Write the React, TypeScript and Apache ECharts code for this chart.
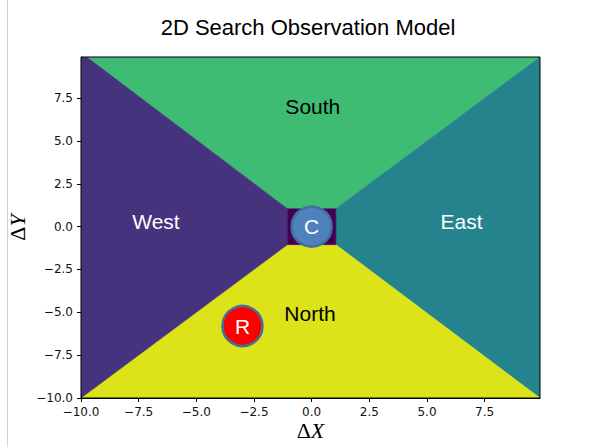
import React, { useEffect, useRef } from "react";
import * as echarts from "echarts";

// axis extents and ticks
const xMin = -10;
const xMax = 9.9;
const yMin = -10;
const yMax = 9.9;
const tickValues = [-10, -7.5, -5, -2.5, 0, 2.5, 5, 7.5];

// regions (polygon vertices in data coordinates)
const regionNames = ["South", "East", "North", "West", "Center"];
const southPoly = [[-9.75, 9.9], [9.9, 9.9], [1.05, 1.05], [-1.05, 1.05]];
const eastPoly = [[9.9, 9.9], [9.9, -10], [1.05, -1.05], [1.05, 1.05]];
const northPoly = [[-10, -10], [9.9, -10], [1.05, -1.05], [-1.05, -1.05]];
const westPoly = [[-10, -10], [-10, 9.9], [-9.75, 9.9], [-1.05, 1.05], [-1.05, -1.05]];
const centerPoly = [[-1.05, -1.05], [1.05, -1.05], [1.05, 1.05], [-1.05, 1.05]];
const regionColors = ["#3fbc73", "#25838e", "#dce319", "#46337e", "#440154"];

// region labels
const labelNames = ["South", "East", "North", "West"];
const labelX = [0.05, 6.5, -0.07, -6.75];
const labelY = [7.0, 0.3, -5.05, 0.3];
const labelColors = ["#000000", "#ffffff", "#000000", "#ffffff"];

// markers
const markerNames = ["C", "R"];
const markerX = [0, -3.0];
const markerY = [0, -5.8];
const markerFill = ["#4f81bd", "#ff0000"];

const polys = [southPoly, eastPoly, northPoly, westPoly, centerPoly];

const fmt = (v: number) => {
  const s = Math.abs(v).toFixed(1);
  return v < 0 ? "\u2212" + s : s;
};

export default function App() {
  const ref = useRef<HTMLDivElement>(null);
  useEffect(() => {
    if (!ref.current) return;
    const chart = echarts.init(ref.current, undefined, { renderer: "svg" });
    const axisCommon = {
      type: "value" as const,
      splitLine: { show: false },
      axisLine: { show: true, onZero: false, lineStyle: { color: "#000", width: 1 } },
      axisTick: {
        show: true,
        length: 4,
        lineStyle: { color: "#000", width: 1 },
        customValues: tickValues,
      },
      axisLabel: {
        color: "#111",
        fontFamily: "DejaVu Sans",
        fontSize: 12,
        customValues: tickValues,
        formatter: (v: number) => fmt(v),
      },
    };
    const nameRich = {
      a: { fontFamily: "Liberation Serif", fontSize: 22, color: "#000" },
      b: { fontFamily: "Liberation Serif", fontStyle: "italic", fontSize: 22, color: "#000" },
    };
    chart.setOption({
      animation: false,
      backgroundColor: "#ffffff",
      title: {
        text: "2D Search Observation Model",
        left: 303,
        top: 11,
        textAlign: "center",
        textStyle: {
          fontFamily: "Liberation Sans, Arial",
          fontSize: 22,
          fontWeight: "normal",
          color: "#000",
        },
      },
      grid: {
        left: 81,
        right: 54,
        top: 57,
        bottom: 49,
        outerBoundsMode: "none",
        containLabel: false,
        show: true,
        borderColor: "#000",
        borderWidth: 1,
        backgroundColor: "transparent",
        z: 10,
      },
      xAxis: {
        ...axisCommon,
        min: xMin,
        max: xMax,
        name: "{a|\u0394}{b|X}",
        nameLocation: "middle",
        nameGap: 21,
        nameMoveOverlap: false,
        nameTextStyle: { rich: nameRich },
        axisLabel: { ...axisCommon.axisLabel, margin: 8 },
      },
      yAxis: {
        ...axisCommon,
        min: yMin,
        max: yMax,
        name: "{a|\u0394}{b|Y}",
        nameLocation: "middle",
        nameRotate: 90,
        nameGap: 53,
        nameMoveOverlap: false,
        nameTextStyle: { rich: nameRich },
        axisLabel: { ...axisCommon.axisLabel, margin: 8 },
      },
      graphic: [
        {
          type: "line",
          shape: { x1: 7.5, y1: 0, x2: 7.5, y2: 447 },
          style: { stroke: "#d4d4d4", lineWidth: 1 },
        },
      ],
      series: [
        {
          type: "custom",
          coordinateSystem: "cartesian2d",
          clip: true,
          data: regionNames.map((n, i) => ({ value: [polys[i][0][0], polys[i][0][1]], name: n })),
          renderItem: (params: any, api: any) => {
            const i = params.dataIndex;
            const pts = polys[i].map((p) => api.coord(p));
            return {
              type: "polygon",
              shape: { points: pts },
              style: { fill: regionColors[i], stroke: regionColors[i], lineWidth: 0.5 },
            };
          },
          z: 1,
        },
        {
          type: "custom",
          coordinateSystem: "cartesian2d",
          data: labelNames.map((n, i) => ({ value: [labelX[i], labelY[i]], name: n })),
          renderItem: (params: any, api: any) => {
            const i = params.dataIndex;
            const p = api.coord([api.value(0), api.value(1)]);
            return {
              type: "text",
              x: p[0],
              y: p[1],
              style: {
                text: labelNames[i],
                fill: labelColors[i],
                font: "21px 'Liberation Sans', Arial, sans-serif",
                align: "center",
                verticalAlign: "middle",
              },
            };
          },
          z: 3,
        },
        {
          type: "scatter",
          data: markerNames.map((n, i) => ({
            value: [markerX[i], markerY[i]],
            name: n,
            itemStyle: { color: markerFill[i] },
          })),
          symbol: "circle",
          symbolSize: 40,
          itemStyle: { borderColor: "#41719c", borderWidth: 2.5, opacity: 1 },
          label: {
            show: true,
            position: "inside",
            formatter: (p: any) => p.name,
            color: "#ffffff",
            fontFamily: "Liberation Sans, Arial",
            fontSize: 21,
            textBorderWidth: 0,
            textBorderColor: "transparent",
          },
          z: 5,
        },
      ],
    });
    return () => chart.dispose();
  }, []);
  return <div ref={ref} style={{ width: 594, height: 447, position: "absolute", left: 0, top: 0 }} />;
}
